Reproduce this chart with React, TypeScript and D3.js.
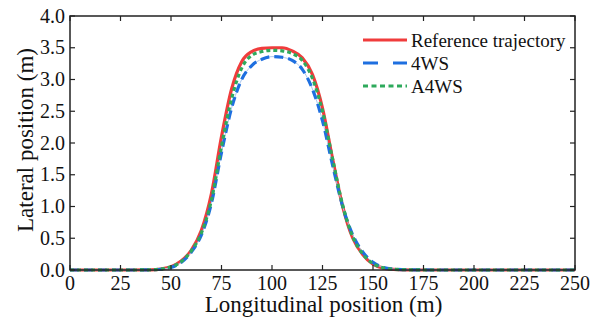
import React from "react";
import * as d3 from "d3";

const xs = [0, 10, 20, 30, 40, 45, 50, 55, 60, 65, 70, 75, 80, 85, 90, 95, 100, 105, 110, 115, 120, 125, 130, 135, 140, 145, 150, 155, 160, 170, 180, 200, 225, 250];
const refY = [0, 0, 0, 0, 0.003, 0.015, 0.05, 0.14, 0.31, 0.62, 1.2, 2.1, 2.85, 3.28, 3.44, 3.49, 3.5, 3.5, 3.45, 3.34, 3.08, 2.55, 1.75, 1.0, 0.5, 0.24, 0.09, 0.03, 0.01, 0, 0, 0, 0, 0];
const ws4Y = [0, 0, 0, 0, 0.003, 0.012, 0.04, 0.12, 0.28, 0.55, 1.05, 1.85, 2.55, 3.0, 3.22, 3.32, 3.36, 3.35, 3.3, 3.16, 2.85, 2.35, 1.65, 1.0, 0.55, 0.28, 0.12, 0.04, 0.015, 0.003, 0, 0, 0, 0];
const a4wsY = [0, 0, 0, 0, 0.003, 0.014, 0.05, 0.13, 0.3, 0.58, 1.1, 1.95, 2.7, 3.18, 3.38, 3.44, 3.46, 3.45, 3.41, 3.3, 3.02, 2.5, 1.75, 1.02, 0.52, 0.25, 0.1, 0.035, 0.012, 0.002, 0, 0, 0, 0];
const xTicks = [0, 25, 50, 75, 100, 125, 150, 175, 200, 225, 250];
const yTicks = [0, 0.5, 1.0, 1.5, 2.0, 2.5, 3.0, 3.5, 4.0];
const legendLabels = ["Reference trajectory", "4WS", "A4WS"];

const W = 605, H = 321;
const L = 70, R = 575, T = 16, B = 270;
const font = "'Liberation Serif', 'Times New Roman', serif";

export default function App() {
  const x = d3.scaleLinear().domain([0, 250]).range([L, R]);
  const y = d3.scaleLinear().domain([0, 4]).range([B, T]);
  const line = (ys: number[]) =>
    d3.line<number>().x((_, i) => x(xs[i])).y((v) => y(v)).curve(d3.curveMonotoneX)(ys) || "";

  const legendX0 = 363, legendX1 = 407;
  const legendY = [40, 63, 86];

  return (
    <svg width={W} height={H} style={{ position: "absolute", left: 0, top: 0, background: "#fff" }} fontFamily={font}>
      <rect x={0} y={0} width={W} height={H} fill="#fff" />
      {/* curves */}
      <path d={line(refY)} fill="none" stroke="#f03c3c" strokeWidth={3.2} />
      <path d={line(ws4Y)} fill="none" stroke="#a9c6ee" strokeWidth={1} />
      <path d={line(ws4Y)} fill="none" stroke="#1e6fe0" strokeWidth={3.2} strokeDasharray="9 5" />
      <path d={line(a4wsY)} fill="none" stroke="#2eaa5c" strokeWidth={3.2} strokeDasharray="4 3" />
      {/* frame */}
      <rect x={L} y={T} width={R - L} height={B - T} fill="none" stroke="#222" strokeWidth={1.5} />
      {xTicks.map((t) => (
        <g key={"x" + t}>
          <line x1={x(t)} x2={x(t)} y1={B} y2={B - 5} stroke="#222" strokeWidth={1.2} />
          <line x1={x(t)} x2={x(t)} y1={T} y2={T + 5} stroke="#222" strokeWidth={1.2} />
          <text x={x(t)} y={290} fontSize={20} textAnchor="middle" fill="#111">{t}</text>
        </g>
      ))}
      {yTicks.map((t) => (
        <g key={"y" + t}>
          <line x1={L} x2={L + 5} y1={y(t)} y2={y(t)} stroke="#222" strokeWidth={1.2} />
          <line x1={R} x2={R - 5} y1={y(t)} y2={y(t)} stroke="#222" strokeWidth={1.2} />
          <text x={L - 5} y={y(t) + 6.5} fontSize={20} textAnchor="end" fill="#111">{t.toFixed(1)}</text>
        </g>
      ))}
      <text x={(L + R) / 2 + 1} y={312} fontSize={23} textAnchor="middle" fill="#111">Longitudinal position (m)</text>
      <text transform={`translate(33,${(T + B) / 2 - 3}) rotate(-90)`} fontSize={23} textAnchor="middle" fill="#111">Lateral position (m)</text>
      {/* legend */}
      <line x1={legendX0} x2={legendX1} y1={legendY[0]} y2={legendY[0]} stroke="#f03c3c" strokeWidth={3.2} />
      <line x1={legendX0} x2={legendX1} y1={legendY[1]} y2={legendY[1]} stroke="#1e6fe0" strokeWidth={3.2} strokeDasharray="15 15" />
      <line x1={legendX0} x2={legendX1} y1={legendY[2]} y2={legendY[2]} stroke="#2eaa5c" strokeWidth={3.2} strokeDasharray="5 3.5" />
      {legendLabels.map((s, i) => (
        <text key={s} x={411} y={legendY[i] + 6.5} fontSize={19} fill="#111">{s}</text>
      ))}
    </svg>
  );
}
